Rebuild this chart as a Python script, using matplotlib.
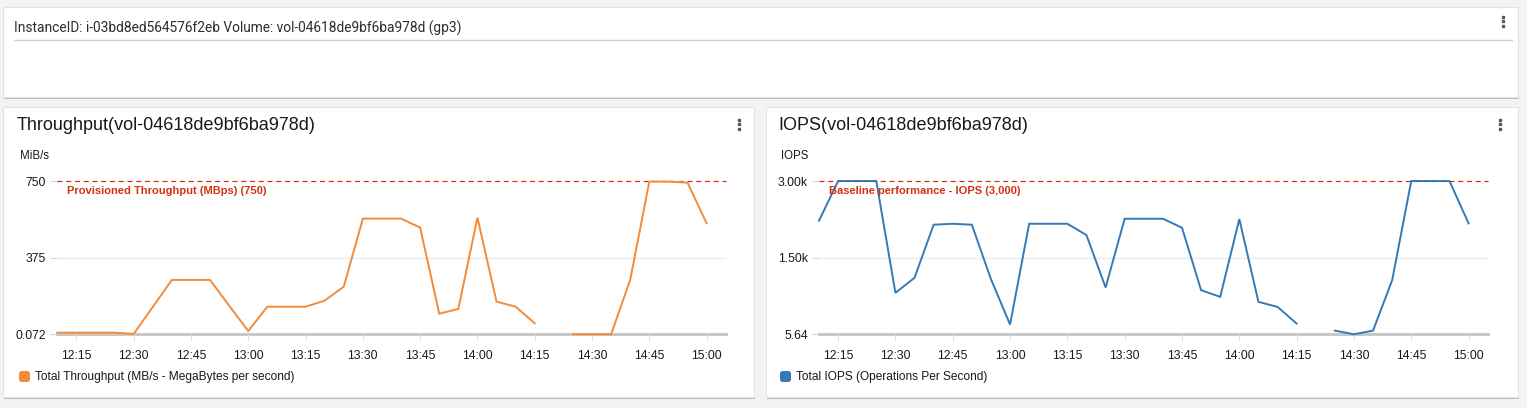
import numpy as np
import pandas as pd
import matplotlib.pyplot as plt
from matplotlib.patches import Rectangle, FancyBboxPatch
from matplotlib.lines import Line2D

plt.switch_backend("agg")

W, H = 1527, 408

# 5-minute samples from 12:10 to 15:00
times = pd.date_range("2023-01-01 12:10", "2023-01-01 15:00", freq="5min")
tick_labels = ["12:15", "12:30", "12:45", "13:00", "13:15", "13:30",
               "13:45", "14:00", "14:15", "14:30", "14:45", "15:00"]

throughput = [8, 8, 8, 8, 2, 134, 266, 266, 266, 140, 16, 135, 135, 135,
              165, 233, 566, 566, 566, 522, 101, 124, 571, 160, 135, 54,
              np.nan, 0.072, 0.072, 0.072, 266, 747, 747, 742, 543]
iops = [2224, 3000, 3000, 3000, 815, 1109, 2146, 2165, 2146, 1083, 196,
        2165, 2165, 2165, 1943, 920, 2263, 2263, 2263, 2087, 867, 737,
        2257, 639, 541, 215, np.nan, 78, 5.64, 78, 1063, 3000, 3000,
        3000, 2172]

tp_ticks = [0.072, 375, 750]
tp_ticklabels = ["0.072", "375", "750"]
iops_ticks = [5.64, 1500, 3000]
iops_ticklabels = ["5.64", "1.50k", "3.00k"]

ORANGE = "#f28b3a"
BLUE = "#3579b7"
RED = "#d13212"
BG = "#f2f3f3"
FONT = ["Liberation Sans", "DejaVu Sans"]


def fx(px):
    return px / W


def fy(py):
    return 1 - py / H


fig = plt.figure(figsize=(W / 100, H / 100), dpi=100, facecolor=BG)


def panel(x0, y0, x1, y1):
    # shadow then white box, kept under the axes
    fig.add_artist(Rectangle((fx(x0 + 1), fy(y1 + 1.5)), fx(x1 - x0), (y1 - y0) / H,
                             transform=fig.transFigure, facecolor="#b8bcbd",
                             edgecolor="none", zorder=-3))
    fig.add_artist(Rectangle((fx(x0), fy(y1)), fx(x1 - x0), (y1 - y0) / H,
                             transform=fig.transFigure, facecolor="white",
                             edgecolor="#e1e4e4", lw=0.8, zorder=-2))


def kebab(x, y):
    fig.add_artist(Line2D([fx(x)] * 3, [fy(y - 4.5), fy(y), fy(y + 4.5)],
                          transform=fig.transFigure, marker="s", ms=2.1,
                          ls="none", color="#545b64"))


# top panel
panel(3, 7, 1518, 97)
fig.text(fx(14), fy(28), "InstanceID: i-03bd8ed564576f2eb Volume: vol-04618de9bf6ba978d (gp3)",
         family=["Roboto", "DejaVu Sans"],
         fontsize=9.9, color="#2a2e33", va="center", ha="left")
fig.add_artist(Line2D([fx(14), fx(1512)], [fy(40), fy(40)],
                      transform=fig.transFigure, color="#cfd3d3", lw=1))
kebab(1503, 21)

panel(3, 107, 754, 397)
panel(766, 107, 1518, 397)
kebab(739, 124)
kebab(1500, 124)


def chart(x_left, x_right, title_x, title, unit, values, color, ticks, ticklabels,
          ymax, threshold_label, legend_label):
    ax = fig.add_axes([fx(x_left), fy(334.3), fx(x_right - x_left), (334.3 - 181) / H])
    ax.set_facecolor("none")
    x = np.arange(len(times))
    ax.plot(x, values, color=color, lw=1.4, clip_on=False, zorder=3,
            solid_joinstyle="miter")
    ax.axhline(ymax, color=RED, lw=0.9, ls=(0, (4, 3)), zorder=2, clip_on=False)
    ax.axhline(ticks[0], color="#c6c8ca", lw=2.2, zorder=1, clip_on=False)
    ax.axhline(ticks[1], color="#eaeded", lw=1, zorder=0)
    ax.set_xlim(0, len(times) - 1 + 1)
    ax.set_ylim(ticks[0], ymax)
    for s in ax.spines.values():
        s.set_visible(False)
    xt = [i for i, t in enumerate(times) if t.strftime("%H:%M") in tick_labels]
    ax.set_xticks(xt)
    ax.set_xticklabels(tick_labels, family=FONT, fontsize=8.8, color="#16191f")
    ax.set_yticks(ticks)
    ax.set_yticklabels(ticklabels, family=FONT, fontsize=8.8, color="#16191f")
    ax.tick_params(axis="x", length=5, color="#e1e3e3", pad=6)
    ax.tick_params(axis="y", length=5, color="#d5d8d8", pad=3)
    ax.text(0.0147, ymax - (ymax - ticks[0]) * 0.068, threshold_label,
            transform=ax.get_yaxis_transform(), fontsize=8, fontweight="bold",
            color=RED, family=FONT, va="center", ha="left")

    fig.text(fx(title_x), fy(126), title, family=FONT, fontsize=13,
             color="#16191f", va="center", ha="left")
    fig.text(fx(title_x + 3), fy(156), unit, family=FONT, fontsize=8.3,
             color="#16191f", va="center", ha="left")
    # legend swatch (rounded square)
    fig.add_artist(FancyBboxPatch((fx(title_x + 2), fy(382)), fx(11), 11 / H,
                                  boxstyle="round,pad=0,rounding_size=0.0018",
                                  mutation_aspect=W / H,
                                  transform=fig.transFigure, facecolor=color,
                                  edgecolor="none"))
    fig.text(fx(title_x + 18), fy(377), legend_label, family=FONT, fontsize=8.6,
             color="#16191f", va="center", ha="left")
    return ax


chart(57.3, 725.7, 17, "Throughput(vol-04618de9bf6ba978d)", "MiB/s", throughput,
      ORANGE, tp_ticks, tp_ticklabels, 750, "Provisioned Throughput (MBps) (750)",
      "Total Throughput (MB/s - MegaBytes per second)")
chart(819, 1487.7, 778, "IOPS(vol-04618de9bf6ba978d)", "IOPS", iops,
      BLUE, iops_ticks, iops_ticklabels, 3000, "Baseline performance - IOPS (3,000)",
      "Total IOPS (Operations Per Second)")

fig.savefig("out.png", dpi=100, facecolor=BG)
